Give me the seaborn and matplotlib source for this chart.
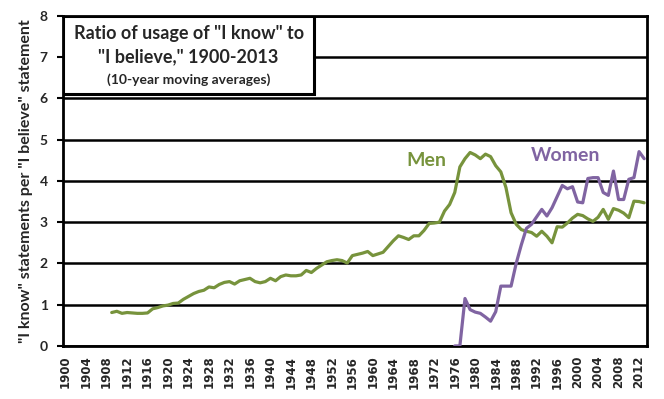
import pandas as pd
import seaborn as sns
import matplotlib.pyplot as plt

# Datos (medias móviles de 10 años)
men_start = 1909
men_ratio = [0.81, 0.84, 0.79, 0.81, 0.80, 0.79, 0.79, 0.80, 0.90, 0.93,
             0.97, 0.99, 1.03, 1.04, 1.13, 1.20, 1.27, 1.32, 1.35, 1.43,
             1.41, 1.49, 1.54, 1.56, 1.50, 1.58, 1.61, 1.64, 1.56, 1.53,
             1.56, 1.64, 1.58, 1.68, 1.72, 1.70, 1.70, 1.72, 1.83, 1.78,
             1.88, 1.96, 2.04, 2.07, 2.09, 2.07, 2.01, 2.19, 2.22, 2.25,
             2.29, 2.19, 2.23, 2.27, 2.41, 2.55, 2.67, 2.63, 2.58, 2.67,
             2.67, 2.80, 2.97, 2.98, 3.00, 3.27, 3.43, 3.72, 4.34, 4.54,
             4.69, 4.63, 4.54, 4.65, 4.59, 4.37, 4.22, 3.84, 3.23, 2.95,
             2.82, 2.78, 2.75, 2.66, 2.78, 2.66, 2.50, 2.89, 2.88, 2.98,
             3.10, 3.19, 3.16, 3.08, 3.02, 3.12, 3.31, 3.07, 3.33, 3.29,
             3.22, 3.11, 3.51, 3.50, 3.47]

women_start = 1976
women_ratio = [0.00, 0.00, 1.15, 0.88, 0.82, 0.79, 0.70, 0.60, 0.83, 1.45,
               1.45, 1.45, 2.00, 2.45, 2.85, 2.95, 3.13, 3.31, 3.15, 3.35,
               3.62, 3.89, 3.81, 3.86, 3.49, 3.47, 4.06, 4.08, 4.08, 3.72,
               3.65, 4.24, 3.55, 3.55, 4.04, 4.08, 4.71, 4.54]

year_ticks = list(range(1900, 2013, 4))
y_ticks = list(range(0, 9))

men_color = "#77933C"
women_color = "#8064A2"

df = pd.concat([
    pd.DataFrame({"year": range(men_start, men_start + len(men_ratio)),
                  "ratio": men_ratio, "grupo": "Men"}),
    pd.DataFrame({"year": range(women_start, women_start + len(women_ratio)),
                  "ratio": women_ratio, "grupo": "Women"}),
])

sns.set_style("white")
plt.rcParams['font.family'] = ['DejaVu Sans']

fig = plt.figure(figsize=(6.64, 3.99), dpi=100)
ax = fig.add_axes([0.095, 0.133, 0.879, 0.827])

sns.lineplot(data=df, x="year", y="ratio", hue="grupo",
             palette={"Men": men_color, "Women": women_color},
             linewidth=2.3, legend=False, ax=ax, zorder=3)

ax.set_xlim(1899.5, 2013.5)
ax.set_ylim(0, 8)
ax.set_xticks(year_ticks)
ax.set_xticklabels([str(y) for y in year_ticks], rotation=90,
                   fontsize=8.5, fontweight="bold")
ax.set_yticks(y_ticks)
ax.set_yticklabels([str(v) for v in y_ticks], fontsize=10, fontweight="bold",
                   family="Lato")
ax.tick_params(axis="x", length=0, pad=7)
ax.tick_params(axis="y", length=4, width=1.5, color="black", pad=7,
               direction="out", left=True)

ax.grid(axis="y", color="black", linewidth=1.8)
ax.grid(axis="x", visible=False)
for side in ["left", "bottom", "right", "top"]:
    ax.spines[side].set_visible(True)
    ax.spines[side].set_color("black")
    ax.spines[side].set_linewidth(2)

ax.set_xlabel("")
ax.set_ylabel('"I know" statements per "I believe" statement',
              fontsize=11.5, fontweight="bold", family="Lato", labelpad=5)

# etiquetas de las series
ax.text(1970.5, 4.5, "Men", color=men_color, fontsize=14,
        fontweight="bold", family="Lato", ha="center", va="center")
ax.text(1997.6, 4.62, "Women", color=women_color, fontsize=14,
        fontweight="bold", family="Lato", ha="center", va="center")

# caja del título
titulo = ['Ratio of usage of "I know" to', '"I believe," 1900-2013']
ax.text(0.215, 0.948, titulo[0], transform=ax.transAxes, fontsize=13,
        fontweight="bold", family="Lato", ha="center", va="center", zorder=6)
ax.text(0.215, 0.876, titulo[1], transform=ax.transAxes, fontsize=13,
        fontweight="bold", family="Lato", ha="center", va="center", zorder=6)
ax.text(0.215, 0.806, "(10-year moving averages)", transform=ax.transAxes,
        fontsize=10, fontweight="bold", family="Lato",
        ha="center", va="center", zorder=6)
caja = plt.Rectangle((0.0, 0.765), 0.43, 0.235, transform=ax.transAxes,
                     facecolor="white", edgecolor="black", linewidth=2.2,
                     zorder=5)
ax.add_patch(caja)

fig.savefig("out.png", dpi=100)
